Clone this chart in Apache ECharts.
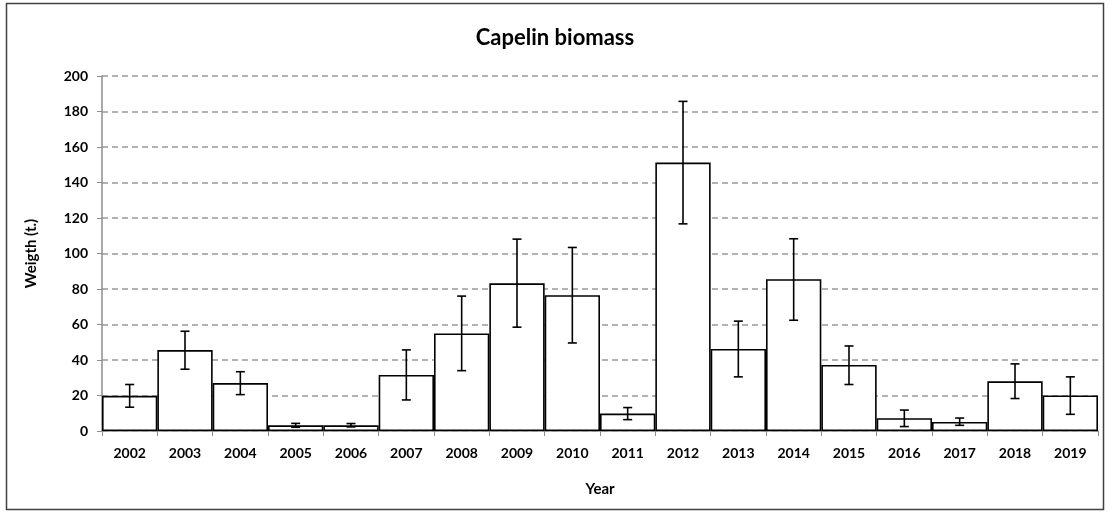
<!DOCTYPE html>
<html>
<head>
<meta charset="utf-8">
<script src="https://cdn.jsdelivr.net/npm/echarts@6/dist/echarts.min.js"></script>
<style>
  html, body { margin: 0; padding: 0; background: #fff; }
  #chart { width: 1110px; height: 520px; }
</style>
</head>
<body>
<div id="chart"></div>
<script>
// Survey years
const years = ['2002','2003','2004','2005','2006','2007','2008','2009','2010',
               '2011','2012','2013','2014','2015','2016','2017','2018','2019'];
// Estimated capelin biomass (t.)
const biomass = [19.8, 45.6, 27.0, 3.2, 3.2, 31.6, 55.0, 83.2, 76.5,
                 9.8, 151.2, 46.2, 85.5, 37.2, 7.2, 5.1, 28.0, 20.0];
// Lower and upper confidence limits
const lowerCI = [13.4, 34.8, 20.5, 2.1, 2.3, 17.5, 34.0, 58.5, 49.6,
                 6.4, 116.7, 30.5, 62.4, 26.2, 2.5, 3.2, 18.3, 9.4];
const upperCI = [26.2, 56.2, 33.4, 4.3, 4.2, 45.7, 76.0, 108.1, 103.4,
                 13.2, 185.7, 61.9, 108.3, 47.9, 11.8, 7.3, 37.8, 30.5];
// Y axis ticks
const yMin = 0, yMax = 200, yStep = 20;

const FONT = 'Lato, "Open Sans", sans-serif';
const chart = echarts.init(document.getElementById('chart'), null, { renderer: 'canvas' });

const errData = years.map((y, i) => [i, lowerCI[i], upperCI[i]]);

chart.setOption({
  backgroundColor: '#fff',
  animation: false,
  title: {
    text: 'Capelin biomass',
    left: 'center',
    top: 22,
    textStyle: { fontFamily: FONT, fontWeight: 'bold', fontSize: 22, color: '#000' }
  },
  graphic: [{
    type: 'rect',
    shape: { x: 6.5, y: 3.5, width: 1097, height: 506 },
    style: { fill: 'none', stroke: '#404040', lineWidth: 1.5 },
    silent: true
  }],
  grid: { left: 102, right: 12, top: 76, bottom: 89 },
  xAxis: {
    type: 'category',
    data: years,
    name: 'Year',
    nameLocation: 'middle',
    nameGap: 51,
    nameTextStyle: { fontFamily: FONT, fontWeight: 'bold', fontSize: 15, color: '#000' },
    axisLine: { lineStyle: { color: '#8c8c8c', width: 1.5 } },
    axisTick: { show: true, length: 5, lineStyle: { color: '#8c8c8c' } },
    axisLabel: { fontFamily: FONT, fontWeight: 'bold', fontSize: 14, color: '#000', margin: 15 },
    splitLine: { show: false }
  },
  yAxis: {
    type: 'value',
    min: yMin, max: yMax, interval: yStep,
    name: 'Weigth (t.)',
    nameLocation: 'middle',
    nameGap: 63,
    nameTextStyle: { fontFamily: FONT, fontWeight: 'bold', fontSize: 15, color: '#000' },
    axisLine: { show: true, lineStyle: { color: '#8c8c8c', width: 1.5 } },
    axisTick: { show: true, length: 5, lineStyle: { color: '#8c8c8c' } },
    axisLabel: { fontFamily: FONT, fontWeight: 'bold', fontSize: 14, color: '#000', margin: 14 },
    splitLine: { show: true, lineStyle: { color: '#999', type: [6, 4], width: 1.5 } }
  },
  series: [
    {
      type: 'bar',
      data: biomass,
      barCategoryGap: '0%',
      itemStyle: { color: '#fff', borderColor: '#000', borderWidth: 1.6 },
      z: 2
    },
    {
      type: 'custom',
      data: errData,
      z: 3,
      renderItem: function (params, api) {
        const x = api.value(0);
        const lo = api.coord([x, api.value(1)]);
        const hi = api.coord([x, api.value(2)]);
        const half = 4.5;
        const st = { stroke: '#000', lineWidth: 1.6, fill: 'none' };
        return {
          type: 'group',
          children: [
            { type: 'line', shape: { x1: lo[0], y1: lo[1], x2: hi[0], y2: hi[1] }, style: st },
            { type: 'line', shape: { x1: hi[0] - half, y1: hi[1], x2: hi[0] + half, y2: hi[1] }, style: st },
            { type: 'line', shape: { x1: lo[0] - half, y1: lo[1], x2: lo[0] + half, y2: lo[1] }, style: st }
          ]
        };
      }
    }
  ]
});
</script>
</body>
</html>
